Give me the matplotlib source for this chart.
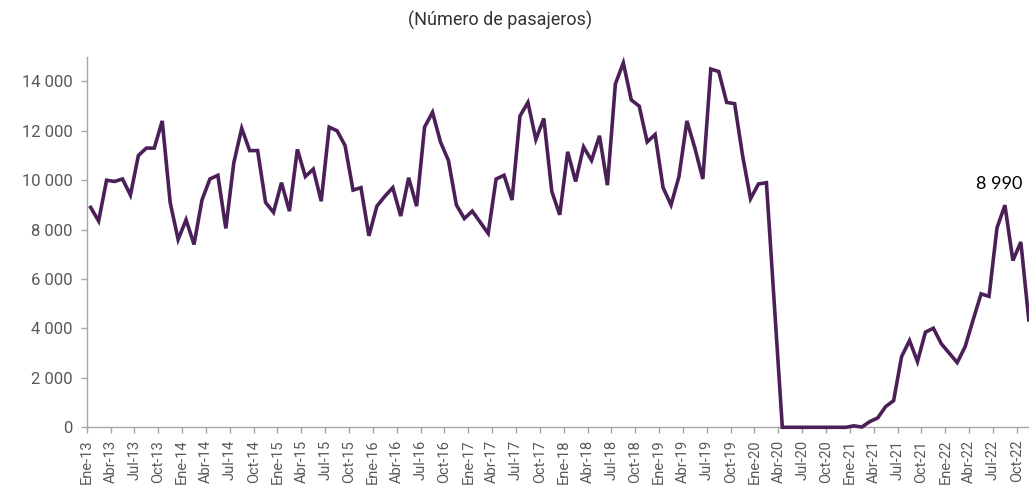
import matplotlib
matplotlib.use("Agg")
import matplotlib.pyplot as plt
from matplotlib.ticker import FixedLocator, FuncFormatter

# Monthly passengers, January 2013 - November 2022
months = ["Ene", "Feb", "Mar", "Abr", "May", "Jun",
          "Jul", "Ago", "Sep", "Oct", "Nov", "Dic"]

pax_2013 = [8900, 8350, 10000, 9950, 10050, 9400, 11000, 11300, 11300, 12400, 9100, 7600]
pax_2014 = [8400, 7400, 9200, 10050, 10200, 8050, 10700, 12100, 11200, 11200, 9100, 8700]
pax_2015 = [9900, 8750, 11250, 10150, 10450, 9150, 12150, 12000, 11400, 9600, 9700, 7750]
pax_2016 = [8950, 9350, 9700, 8550, 10100, 8950, 12150, 12750, 11550, 10800, 9000, 8450]
pax_2017 = [8750, 8300, 7850, 10050, 10200, 9200, 12600, 13150, 11650, 12500, 9550, 8600]
pax_2018 = [11150, 9950, 11350, 10800, 11800, 9800, 13900, 14750, 13250, 13000, 11550, 11850]
pax_2019 = [9700, 9000, 10150, 12400, 11300, 10050, 14500, 14400, 13150, 13100, 11000, 9250]
pax_2020 = [9850, 9900, 4950, 0, 0, 0, 0, 0, 0, 0, 0, 0]
pax_2021 = [60, 10, 230, 380, 840, 1080, 2860, 3510, 2660, 3850, 4010, 3380]
pax_2022 = [3000, 2620, 3270, 4350, 5400, 5300, 8070, 8990, 6750, 7500, 4350]

passengers = (pax_2013 + pax_2014 + pax_2015 + pax_2016 + pax_2017 +
              pax_2018 + pax_2019 + pax_2020 + pax_2021 + pax_2022)
periods = [f"{months[i % 12]}-{13 + i // 12}" for i in range(len(passengers))]
label_idx = list(range(0, len(passengers), 3))
label_text = [periods[i] for i in label_idx]
highlight = periods.index("Ago-22")

y_ticks = list(range(0, 14001, 2000))

W, H = 1029, 490
fig = plt.figure(figsize=(W / 100, H / 100), dpi=100)
ax = fig.add_axes([86.7 / W, 62.7 / H, (W - 86.7) / W, 370.6 / H])

line_color = "#4B1F57"
axis_color = "#A6A6A6"
label_color = "#595959"

x = list(range(len(passengers)))
ax.plot(x, passengers, color=line_color, linewidth=2.6,
        solid_joinstyle="miter", clip_on=False, zorder=3)

ax.set_xlim(-0.5, -0.5 + (W - 86.7) / 7.95)
ax.set_ylim(0, 15000)

for side in ("top", "right"):
    ax.spines[side].set_visible(False)
for side in ("left", "bottom"):
    ax.spines[side].set_color(axis_color)
    ax.spines[side].set_linewidth(1.0)

ax.yaxis.set_major_locator(FixedLocator(y_ticks))
ax.yaxis.set_major_formatter(FuncFormatter(lambda v, p: f"{v:,.0f}".replace(",", " ")))
ax.tick_params(axis="y", direction="out", length=4, width=1, color=axis_color,
               labelsize=12, labelcolor=label_color, pad=6)
for t in ax.get_yticklabels():
    t.set_fontfamily("Roboto")

ax.set_xticks([i - 0.5 for i in label_idx])
ax.set_xticklabels(label_text, rotation=90, fontsize=10.5, color=label_color,
                   fontfamily="Roboto")
ax.tick_params(axis="x", direction="out", length=4, width=1, color=axis_color, pad=5)

ax.annotate(f"{passengers[highlight]:,}".replace(",", " "),
            xy=(highlight, passengers[highlight]), xytext=(-4, 15),
            textcoords="offset points", ha="center", va="center",
            fontsize=13, fontfamily="Lato", color="#000000")

fig.text(500 / W, 1 - 20 / H, "(Número de pasajeros)", ha="center", va="center",
         fontsize=13, fontfamily="Roboto", color="#333333")

fig.savefig("out.png", dpi=100)
